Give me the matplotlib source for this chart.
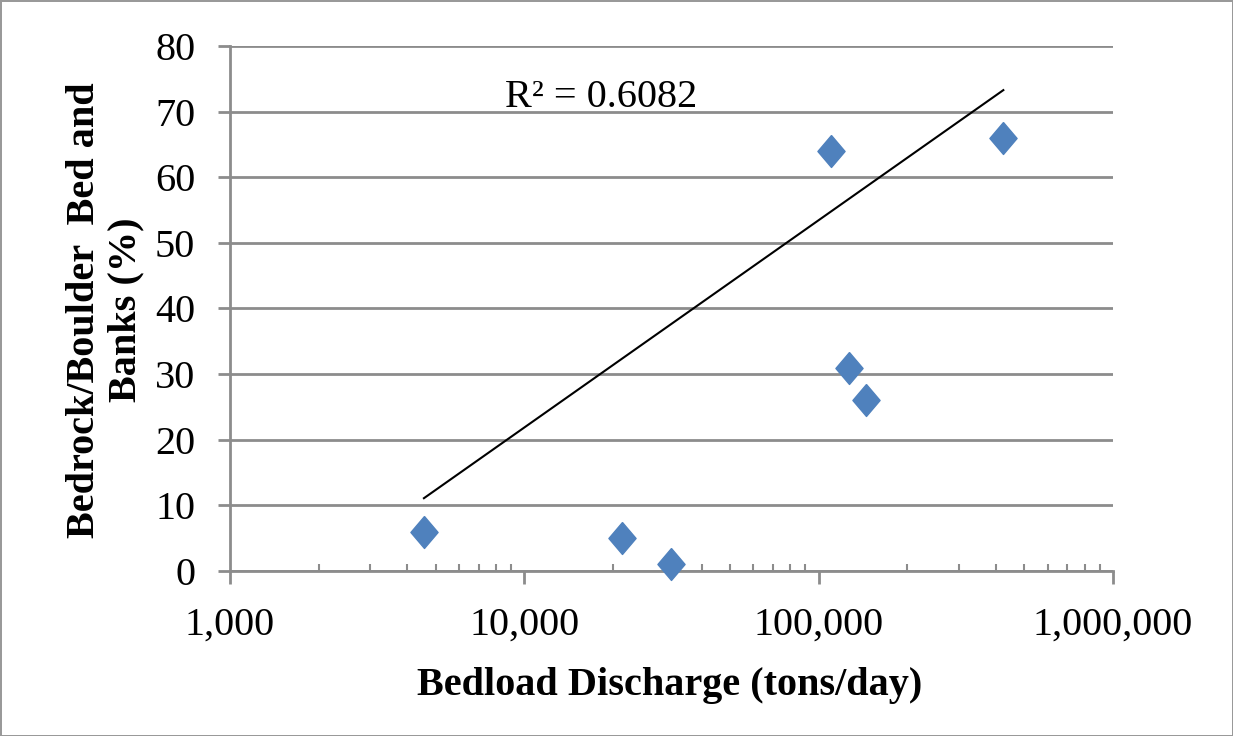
"""
Scatter of bedrock/boulder bed and banks share against bedload discharge,
with a logarithmic trendline (Excel style)
"""
import numpy as np
import matplotlib.pyplot as plt
from matplotlib.ticker import FixedLocator, FuncFormatter

# data
bedload = [4560, 21500, 31500, 110000, 127000, 145000, 424000]
bedrock_pct = [6, 5, 1, 64, 31, 26, 66]

# logarithmic trendline y = a * ln(x) + b, as drawn in the chart
trend_a = 13.72
trend_b = -104.5
r2_label = 'R² = 0.6082'

x_ticks = [1e3, 1e4, 1e5, 1e6]
y_ticks = [0, 10, 20, 30, 40, 50, 60, 70, 80]

GRID = '#8c8c8c'
BLUE = '#4f81bd'

plt.rcParams['font.family'] = ['Liberation Serif', 'DejaVu Serif']

fig = plt.figure(figsize=(12.33, 7.36), dpi=100)
fig.patch.set_edgecolor('#999999')
fig.patch.set_linewidth(2)
ax = fig.add_axes([0.1865, 0.2242, 0.7162, 0.7133])

ax.set_xscale('log')
ax.set_xlim(x_ticks[0], x_ticks[-1])
ax.set_ylim(y_ticks[0], y_ticks[-1])

# horizontal gridlines
ax.set_yticks(y_ticks)
ax.yaxis.grid(True, color=GRID, linewidth=2)
ax.set_axisbelow(True)

# trendline over the data range
xs = np.geomspace(min(bedload), max(bedload), 50)
ax.plot(xs, trend_a * np.log(xs) + trend_b, color='black', linewidth=1.5,
        zorder=3)

# diamonds, a bit taller than wide
diamond = [(0, 1), (0.85, 0), (0, -1), (-0.85, 0), (0, 1)]
ax.plot(bedload, bedrock_pct, linestyle='none', marker=diamond,
        markersize=23, color=BLUE, zorder=4, clip_on=False)

ax.text(0.311, 0.884, r2_label, transform=ax.transAxes, fontsize=29,
        ha='left', va='baseline')

# axes styling
for side in ['top', 'right']:
    ax.spines[side].set_visible(False)
for side in ['left', 'bottom']:
    ax.spines[side].set_color(GRID)
    ax.spines[side].set_linewidth(2)

ax.xaxis.set_major_locator(FixedLocator(x_ticks))
ax.xaxis.set_minor_locator(FixedLocator(
    [m * d for d in x_ticks[:-1] for m in range(2, 10)]))
ax.xaxis.set_major_formatter(FuncFormatter(lambda v, p: f'{v:,.0f}'))
ax.xaxis.set_minor_formatter(FuncFormatter(lambda v, p: ''))
ax.tick_params(axis='x', which='major', direction='out', length=9,
               width=2, color=GRID, pad=17, labelsize=29)
ax.tick_params(axis='x', which='minor', direction='in', length=5,
               width=1.5, color=GRID)
ax.tick_params(axis='y', which='major', direction='out', length=9,
               width=2, color=GRID, pad=16, labelsize=29)

ax.set_xlabel('Bedload Discharge (tons/day)', fontsize=29,
              fontweight='bold')
ax.xaxis.set_label_coords(0.498, -0.182)
ax.set_ylabel('Bedrock/Boulder  Bed and\nBanks (%)', fontsize=29,
              fontweight='bold', linespacing=1.15)
ax.yaxis.set_label_coords(-0.097, 0.497)

fig.savefig('out.png', dpi=100)
